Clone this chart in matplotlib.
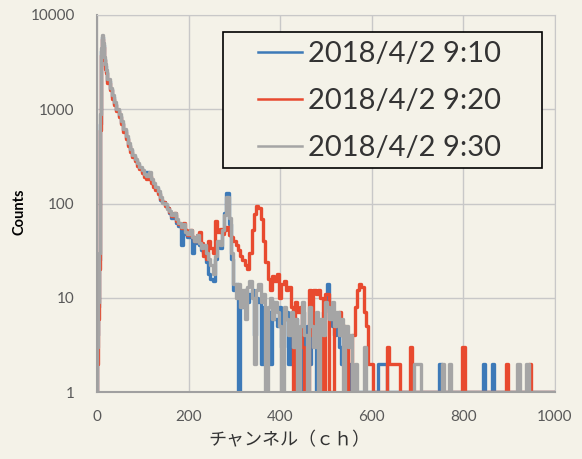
import matplotlib
matplotlib.use("Agg")
import matplotlib.pyplot as plt
from matplotlib.patches import Rectangle

# channel axis: fine steps at the start, then every 5 ch
channels = [0, 2, 4, 6, 8, 10, 12, 14, 16, 18, 20] + list(range(25, 1001, 5))

labels = ["2018/4/2 9:10", "2018/4/2 9:20", "2018/4/2 9:30"]

# counts (floor at 1 = empty channel)
blue_counts = [
    # 0-20
    1, 4, 8, 25, 700, 4200, 5800, 4800, 3400, 2900, 2500,
    # 25-100
    2000, 1650, 1350, 1150, 980, 850, 720, 600, 500, 420, 370, 320, 290, 260, 240, 215,
    # 105-200
    200, 215, 190, 172, 158, 145, 128, 110, 104, 96, 90, 80, 70, 76, 62, 58, 36, 55, 48, 44,
    # 205-300
    46, 30, 38, 42, 36, 32, 30, 24, 18, 16, 15, 26, 38, 34, 50, 80, 130, 60, 26, 12,
    # 305-400
    14, 1, 10, 8, 12, 9, 11, 12, 4, 10, 9, 2, 8, 4, 7, 2, 9, 6, 5, 8,
    # 405-500
    3, 6, 7, 2, 5, 2, 6, 4, 1, 7, 3, 5, 2, 6, 4, 1, 5, 3, 7, 9,
    # 505-600
    14, 6, 5, 4, 6, 3, 2, 4, 1, 2, 1, 1, 1, 1, 1, 1, 1, 1, 1, 1,
    # 605-700
    1, 1, 2, 2, 2, 2, 1, 1, 1, 1, 1, 1, 1, 1, 1, 1, 1, 1, 1, 1,
    # 705-800
    1, 1, 1, 1, 1, 1, 1, 1, 1, 2, 1, 1, 1, 1, 1, 1, 1, 1, 1, 1,
    # 805-900
    1, 1, 1, 1, 1, 1, 1, 1, 2, 1, 1, 1, 2, 1, 1, 1, 1, 1, 1, 1,
    # 905-1000
    1, 1, 1, 1, 1, 1, 1, 1, 1, 1, 1, 1, 1, 1, 1, 1, 1, 1, 1, 1,
]

red_counts = [
    # 0-20
    1, 2, 6, 20, 600, 3800, 5600, 4600, 3300, 2700, 2400,
    # 25-100
    1900, 1600, 1300, 1100, 950, 820, 700, 580, 480, 410, 350, 310, 280, 250, 230, 210,
    # 105-200
    190, 180, 195, 165, 150, 140, 125, 112, 104, 95, 90, 82, 74, 80, 66, 60, 55, 62, 52, 46,
    # 205-300
    52, 44, 40, 46, 50, 38, 28, 26, 40, 34, 30, 66, 50, 54, 48, 52, 56, 46, 44, 40,
    # 305-400
    36, 32, 28, 25, 22, 20, 30, 52, 78, 94, 90, 68, 40, 24, 16, 12, 17, 15, 18, 10,
    # 405-500
    14, 15, 12, 13, 8, 1, 9, 7, 8, 3, 1, 1, 12, 4, 12, 11, 12, 10, 1, 11,
    # 505-600
    11, 1, 1, 6, 5, 7, 4, 5, 3, 1, 1, 4, 8, 12, 14, 13, 7, 5, 2, 2,
    # 605-700
    1, 1, 1, 1, 1, 1, 3, 2, 2, 2, 2, 2, 1, 1, 1, 1, 3, 1, 1, 1,
    # 705-800
    1, 1, 1, 1, 1, 1, 1, 1, 1, 1, 1, 1, 1, 1, 1, 1, 1, 1, 1, 3,
    # 805-900
    1, 1, 1, 1, 1, 1, 1, 1, 1, 1, 1, 1, 1, 1, 1, 1, 1, 1, 2, 1,
    # 905-1000
    1, 1, 1, 1, 1, 1, 1, 1, 2, 1, 1, 1, 1, 1, 1, 1, 1, 1, 1, 1,
]

gray_counts = [
    # 0-20
    1, 3, 9, 30, 900, 4500, 6200, 5000, 3600, 3000, 2600,
    # 25-100
    2100, 1700, 1400, 1200, 1000, 880, 750, 620, 520, 440, 380, 330, 300, 270, 245, 225,
    # 105-200
    205, 195, 215, 180, 165, 150, 135, 118, 102, 98, 88, 84, 76, 80, 68, 62, 56, 60, 50, 47,
    # 205-300
    52, 44, 40, 46, 38, 34, 36, 30, 26, 22, 18, 28, 40, 36, 52, 75, 118, 70, 30, 14,
    # 305-400
    10, 14, 8, 12, 6, 13, 15, 10, 2, 12, 14, 9, 11, 1, 8, 10, 6, 9, 7, 5,
    # 405-500
    1, 8, 6, 4, 7, 3, 6, 1, 5, 9, 4, 1, 8, 5, 3, 7, 1, 6, 4, 9,
    # 505-600
    8, 6, 9, 5, 7, 4, 6, 1, 5, 3, 4, 1, 2, 1, 1, 1, 3, 1, 1, 1,
    # 605-700
    1, 1, 1, 1, 1, 1, 1, 1, 1, 1, 1, 1, 1, 1, 1, 1, 1, 1, 2, 2,
    # 705-800
    2, 1, 1, 1, 1, 1, 1, 1, 1, 1, 2, 1, 1, 2, 1, 1, 1, 1, 1, 1,
    # 805-900
    1, 1, 1, 1, 1, 1, 1, 1, 1, 1, 1, 1, 1, 1, 1, 1, 1, 1, 1, 1,
    # 905-1000
    1, 1, 1, 2, 1, 1, 1, 2, 1, 1, 1, 1, 1, 1, 1, 1, 1, 1, 1, 1,
]

colors = ["#3d7ab8", "#e84a2f", "#a5a5a5"]
bg = "#f4f2e8"

fig = plt.figure(figsize=(5.82, 4.59), dpi=100, facecolor=bg)
ax = fig.add_axes([97 / 582, 1 - 392 / 459, 458 / 582, 377 / 459])
ax.set_facecolor(bg)

for counts, c, lab in zip([blue_counts, red_counts, gray_counts], colors, labels):
    ax.plot(channels, counts, color=c, lw=2.4, label=lab, drawstyle="steps-mid")

ax.set_yscale("log")
ax.set_ylim(1, 10000)
ax.set_xlim(0, 1000)
ax.set_xticks(range(0, 1001, 200))
ax.set_yticks([1, 10, 100, 1000, 10000])
ax.set_yticklabels(["1", "10", "100", "1000", "10000"])
ax.minorticks_off()
ax.grid(True, color="#c8c8c8", lw=1)
ax.set_axisbelow(True)
for s in ["top", "right"]:
    ax.spines[s].set_color("#c8c8c8")
for s in ["left", "bottom"]:
    ax.spines[s].set_color("#a0a0a0")
    ax.spines[s].set_linewidth(1.5)
ax.tick_params(axis="y", length=0, labelsize=11, labelcolor="#595959", pad=16)
ax.tick_params(axis="x", length=0, labelsize=11, labelcolor="#595959", pad=13)
for t in ax.get_xticklabels() + ax.get_yticklabels():
    t.set_family("Lato")

fig.text(20 / 582, 1 - 212 / 459, "Counts", rotation=90, ha="center", va="center",
         fontsize=10.5, fontweight="bold", family="Lato")
fig.text(289 / 582, 1 - 440 / 459, "チャンネル（ｃｈ）", ha="center", va="center",
         fontsize=13, color="#333333", family=["Noto Sans CJK JP", "DejaVu Sans"])

# legend box drawn separately so the padding can match the original
box = Rectangle((223 / 582, 1 - 168 / 459), 319 / 582, 136 / 459,
                transform=fig.transFigure, facecolor=bg, edgecolor="black",
                lw=1.2, zorder=5, clip_on=False)
ax.add_patch(box)
leg = ax.legend(loc="upper left", bbox_to_anchor=(258 / 582, 1 - 41 / 459),
                bbox_transform=fig.transFigure, prop={"family": "Lato", "size": 21},
                frameon=False, handlelength=1.5, handletextpad=0.2,
                labelspacing=0.72, borderpad=0, borderaxespad=0)
leg.set_zorder(6)
for line in leg.get_lines():
    line.set_linewidth(1.8)
for t in leg.get_texts():
    t.set_color("#333333")

fig.savefig("out.png", dpi=100, facecolor=bg)
